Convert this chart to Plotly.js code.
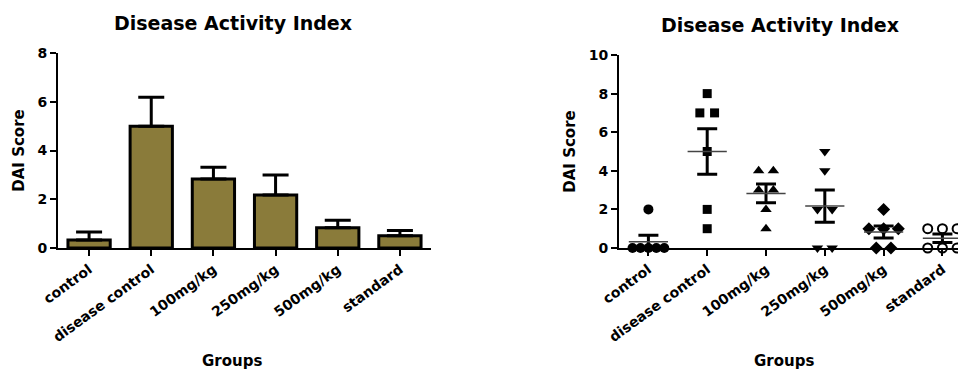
<!DOCTYPE html>
<html>
<head>
<meta charset="utf-8">
<script src="https://cdn.plot.ly/plotly-3.0.1.min.js"></script>
<style>html,body{margin:0;padding:0;background:#fff;}#chart{width:958px;height:372px;}</style>
</head>
<body>
<div id="chart"></div>
<script>
// ---- data ----
const groups = ["control", "disease control", "100mg/kg", "250mg/kg", "500mg/kg", "standard"];
const meanDAI = [0.33, 5.0, 2.83, 2.17, 0.83, 0.5];
const semDAI = [0.33, 1.18, 0.48, 0.83, 0.31, 0.22];
const ptsControl = [2, 0, 0, 0, 0, 0];
const ptsDisease = [8, 7, 7, 5, 2, 1];
const pts100 = [4, 4, 3, 3, 2, 1];
const pts250 = [5, 4, 2, 2, 0, 0];
const pts500 = [2, 1, 1, 1, 0, 0];
const ptsStandard = [1, 1, 1, 0, 0, 0];
const yTicksLeft = [0, 2, 4, 6, 8];
const yTicksRight = [0, 2, 4, 6, 8, 10];
const chartTitle = "Disease Activity Index";
const yTitle = "DAI Score";
const xTitle = "Groups";

// ---- styles ----
const FONT = "DejaVu Sans";
const olive = "#8a7b3a";
const tickFont = {family: FONT, size: 14, color: "#000", weight: "bold"};

const allPts = [ptsControl, ptsDisease, pts100, pts250, pts500, ptsStandard];
const symbols = ["circle", "square", "triangle-up", "triangle-down", "diamond", "circle-open"];
const sizes = [10, 9, 10, 10, 10, 9];

// spread equal values horizontally (scatter-dot layout)
function spread(vals, gi) {
  const xs = [];
  const counts = {}; const seen = {};
  vals.forEach(v => counts[v] = (counts[v] || 0) + 1);
  vals.forEach(v => {
    const n = counts[v];
    const k = seen[v] || 0; seen[v] = k + 1;
    const step = n > 1 ? Math.min(0.25, 0.54 / (n - 1)) : 0;
    xs.push(gi + (k - (n - 1) / 2) * step);
  });
  return xs;
}

const traces = [];
traces.push({
  type: "bar", x: groups, y: meanDAI, xaxis: "x", yaxis: "y",
  width: 0.68,
  marker: {color: olive, line: {color: "#000", width: 3}},
  error_y: {type: "data", symmetric: false, array: semDAI, arrayminus: groups.map(() => 0),
            color: "#000", thickness: 3, width: 13},
  hoverinfo: "x+y", showlegend: false
});

allPts.forEach((vals, gi) => {
  traces.push({
    type: "scatter", mode: "markers", xaxis: "x2", yaxis: "y2",
    x: spread(vals, gi), y: vals, cliponaxis: false,
    marker: {symbol: symbols[gi], size: sizes[gi], color: "#000",
             line: {color: "#000", width: symbols[gi] === "circle-open" ? 2 : 0}},
    showlegend: false, name: groups[gi]
  });
});

traces.push({
  type: "scatter", mode: "markers", xaxis: "x2", yaxis: "y2",
  x: groups.map((g, i) => i), y: meanDAI, cliponaxis: false,
  marker: {symbol: "line-ew", size: 28, color: "#444", line: {color: "#444", width: 1.5}},
  error_y: {type: "data", array: semDAI, color: "#000", thickness: 3, width: 10},
  showlegend: false, name: "mean ± SEM"
});

const W = 958, H = 372;
const px = v => v / W, py = v => (H - v) / H;

const axisCommon = {
  showline: true, linecolor: "#000", linewidth: 2, showgrid: false, zeroline: false,
  ticks: "outside", ticklen: 6, tickwidth: 2, tickcolor: "#000", tickfont: tickFont
};

const layout = {
  width: W, height: H, margin: {l: 0, r: 0, t: 0, b: 0},
  paper_bgcolor: "#fff", plot_bgcolor: "#fff", showlegend: false,
  font: {family: FONT, color: "#000"},
  xaxis: Object.assign({}, axisCommon, {domain: [px(58), px(431)], anchor: "y",
    type: "category", categoryorder: "array", categoryarray: groups,
    range: [-0.5, 5.5], tickangle: -36}),
  yaxis: Object.assign({}, axisCommon, {domain: [py(248), py(53)], anchor: "x",
    range: [0, 8], tickvals: yTicksLeft,
    title: {text: yTitle, font: {family: FONT, size: 15, weight: "bold"}, standoff: 9}}),
  xaxis2: Object.assign({}, axisCommon, {domain: [px(619), 1], anchor: "y2",
    range: [-0.5, 5.265], tickvals: groups.map((g, i) => i), ticktext: groups, tickangle: -36}),
  yaxis2: Object.assign({}, axisCommon, {domain: [py(248), py(55)], anchor: "x2",
    range: [0, 10], tickvals: yTicksRight,
    title: {text: yTitle, font: {family: FONT, size: 15, weight: "bold"}, standoff: 9}}),
  annotations: [
    {text: chartTitle, xref: "paper", yref: "paper", x: px(233), y: py(23), xanchor: "center", yanchor: "middle",
     showarrow: false, font: {family: FONT, size: 19, weight: "bold", color: "#000"}},
    {text: chartTitle, xref: "paper", yref: "paper", x: px(780), y: py(25), xanchor: "center", yanchor: "middle",
     showarrow: false, font: {family: FONT, size: 19, weight: "bold", color: "#000"}},
    {text: xTitle, xref: "paper", yref: "paper", x: px(232), y: py(361), xanchor: "center", yanchor: "middle",
     showarrow: false, font: {family: FONT, size: 15, weight: "bold", color: "#000"}},
    {text: xTitle, xref: "paper", yref: "paper", x: px(784), y: py(361), xanchor: "center", yanchor: "middle",
     showarrow: false, font: {family: FONT, size: 15, weight: "bold", color: "#000"}}
  ]
};

Plotly.newPlot("chart", traces, layout, {staticPlot: true, displayModeBar: false});
</script>
</body>
</html>
